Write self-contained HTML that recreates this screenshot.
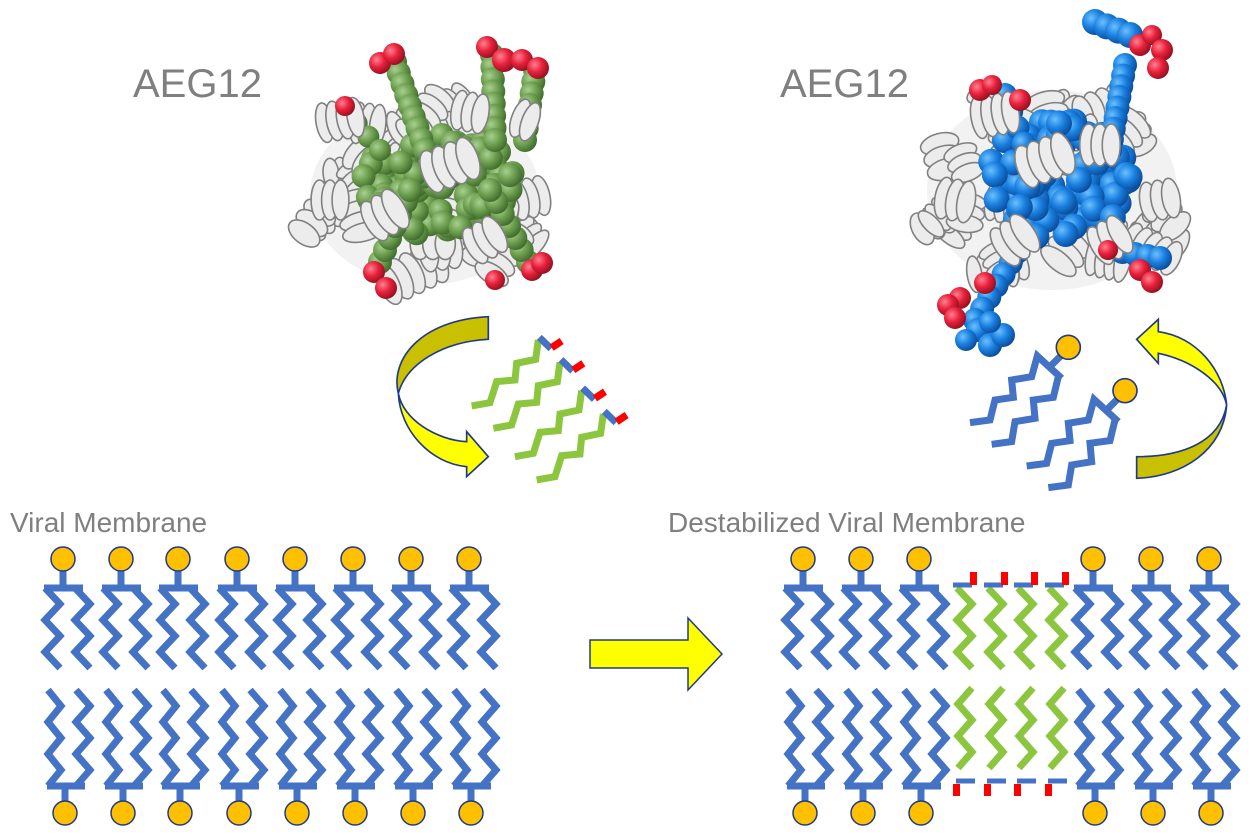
<!DOCTYPE html>
<html><head><meta charset="utf-8"><style>
html,body{margin:0;padding:0;background:#fff;width:1254px;height:836px;overflow:hidden}
svg{display:block}
text{font-family:"Liberation Sans",sans-serif;fill:#7f7f7f}
</style></head><body>
<svg id="s" width="1254" height="836" viewBox="0 0 1254 836" xmlns="http://www.w3.org/2000/svg">
<defs>
<linearGradient id="gl" x1="0" y1="0" x2="0" y2="1"><stop offset="0.47" stop-color="#c8c000"/><stop offset="0.47" stop-color="#ffff00"/></linearGradient>
<linearGradient id="gr" x1="0" y1="0" x2="0" y2="1"><stop offset="0.54" stop-color="#ffff00"/><stop offset="0.54" stop-color="#c8c000"/></linearGradient>
<radialGradient id="sg" cx="0.35" cy="0.35" r="0.7"><stop offset="0" stop-color="#a8d090"/><stop offset="0.5" stop-color="#6ea050"/><stop offset="1" stop-color="#3f6a2c"/></radialGradient>
<radialGradient id="sb" cx="0.35" cy="0.35" r="0.7"><stop offset="0" stop-color="#6cc0ff"/><stop offset="0.5" stop-color="#1a80e0"/><stop offset="1" stop-color="#0a4a98"/></radialGradient>
<radialGradient id="sr" cx="0.35" cy="0.35" r="0.7"><stop offset="0" stop-color="#ff8090"/><stop offset="0.5" stop-color="#e8203a"/><stop offset="1" stop-color="#901020"/></radialGradient>
</defs>
<text x="133" y="97" font-size="40">AEG12</text>
<text x="780" y="97" font-size="40">AEG12</text>
<text x="10" y="532" font-size="28">Viral Membrane</text>
<text x="668" y="532" font-size="28">Destabilized Viral Membrane</text>
<g id="prot"></g>
<g transform="translate(370,310) scale(0.3333)">
<path d="M355,20 L355,88 C220,95 110,160 85,250 C90,360 180,460 290,470 L290,500 L355,440 L290,365 L290,395 C200,390 100,330 85,250 C60,150 150,30 355,20 Z" fill="url(#gl)" stroke="#1f3a8a" stroke-width="5"/>
</g>
<g transform="translate(950,310) scale(0.3333)">
<path d="M625,65 L625,28 L560,88 L625,160 L625,130 C720,150 815,210 830,285 C810,400 690,440 560,440 L560,505 C700,500 820,420 830,285 C820,180 740,80 625,65 Z" fill="url(#gr)" stroke="#1f3a8a" stroke-width="5"/>
</g>
<path d="M590,640 L688,640 L688,618 L722,654 L688,690 L688,668 L590,668 Z" fill="#ffff00" stroke="#1f3a8a" stroke-width="1.5"/>
</svg>
<script>
var s=document.getElementById('s'),NS='http://www.w3.org/2000/svg';
function el(t,a,p){var e=document.createElementNS(NS,t);for(var k in a)e.setAttribute(k,a[k]);(p||s).appendChild(e);return e;}
var B='#4472c4',G='#8cc63f';
function pl(pts,c,w,p){el('polyline',{points:pts.map(function(q){return q.join(',')}).join(' '),fill:'none',stroke:c,'stroke-width':w,'stroke-linejoin':'miter','stroke-miterlimit':10,'stroke-linecap':'butt'},p);}
function zig(x1,x2,y0,y1,step){var r=[],i=0;for(var y=y0;y<=y1+0.1;y+=step){r.push([i%2?x2:x1,y]);i++;}return r;}
function lipid(c){
  el('line',{x1:c,y1:570,x2:c,y2:588,stroke:B,'stroke-width':7});
  el('line',{x1:c+2,y1:786,x2:c+2,y2:803,stroke:B,'stroke-width':7});
  el('line',{x1:c-19,y1:588,x2:c+20,y2:588,stroke:B,'stroke-width':7});
  el('line',{x1:c-16,y1:786,x2:c+22,y2:786,stroke:B,'stroke-width':7});
  pl(zig(c-18,c-3,588,676,16),B,7);
  pl(zig(c-15,c-2,690,786,16),B,7);
  pl(zig(c+12,c+27,588,676,16),B,7);
  pl(zig(c+13,c+27,690,786,16),B,7);
  el('circle',{cx:c,cy:559,r:12,fill:'#ffc000',stroke:'#1f3a8a','stroke-width':1.5});
  el('circle',{cx:c+2,cy:813,r:12,fill:'#ffc000',stroke:'#1f3a8a','stroke-width':1.5});
}
[63,121,178,237,295,353,411,469,803,861,919,1093,1151,1209].forEach(lipid);
[956,987,1017,1048].forEach(function(c){
  pl(zig(c+1,c+16,588,676,16),G,7);
  pl(zig(c+16,c+2,688,780,16),G,7);
  el('line',{x1:c-3,y1:585,x2:c+16,y2:585,stroke:B,'stroke-width':5});
  el('rect',{x:c+14,y:572,width:7,height:13,fill:'#ff0000'});
  el('line',{x1:c,y1:781,x2:c+19,y2:781,stroke:B,'stroke-width':5});
  el('rect',{x:c-3,y:784,width:7,height:12,fill:'#ff0000'});
});
var gz=el('g',{transform:'translate(370,310) scale(0.3333)'});
var shape=[[0,0],[55,-10],[75,-73],[130,-78],[135,-128],[192,-140],[200,-198]];
[[305,288],[370,355],[435,440],[500,510]].forEach(function(o){
  pl(shape.map(function(p){return [p[0]+o[0],p[1]+o[1]]}),G,21,gz);
  pl([[o[0]+203,o[1]-206],[o[0]+238,o[1]-172]],B,21,gz);
  el('line',{x1:o[0]+240,y1:o[1]-175,x2:o[0]+270,y2:o[1]-195,stroke:'#ff0000','stroke-width':22},gz);
});
var bz=el('g',{transform:'translate(950,310) scale(0.3333)'});
[[0,0],[170,130]].forEach(function(o){
  function T(a){return a.map(function(p){return [p[0]+o[0],p[1]+o[1]]})}
  pl(T([[60,338],[120,330],[135,270],[190,262],[185,210],[245,200],[262,138],[335,205]]),B,21,bz);
  pl(T([[125,403],[185,395],[195,335],[255,325],[250,270],[310,262],[325,200]]),B,21,bz);
  el('line',{x1:o[0]+300,y1:o[1]+170,x2:o[0]+340,y2:o[1]+130,stroke:B,'stroke-width':21},bz);
  el('circle',{cx:o[0]+355,cy:o[1]+112,r:36,fill:'#ffc000',stroke:'#1f3a8a','stroke-width':5},bz);
});
var pg=document.getElementById('prot');
var seed=7;function rnd(){seed=(seed*9301+49297)%233280;return seed/233280;}
function helix(cx,cy,rx,ry,n,ang){var g=el('g',{transform:'translate('+cx+','+cy+') rotate('+ang+')'},pg);
  for(var i=0;i<n;i++){el('ellipse',{cx:(i-(n-1)/2)*rx*0.75,cy:0,rx:rx*0.6,ry:ry,fill:'#ececec',stroke:'#808080','stroke-width':1.6},g);}}
function blob(cx,cy,rx,ry,n){for(var i=0;i<n;i++){var a=rnd()*6.283,r=Math.sqrt(rnd());helix(cx+Math.cos(a)*rx*r,cy+Math.sin(a)*ry*r,12+rnd()*6,15+rnd()*7,3+Math.floor(rnd()*3),rnd()*180);}}
function sph(pts,g,r){pts.forEach(function(p){el('circle',{cx:p[0],cy:p[1],r:p[2]||r,fill:'url(#'+g+')'},pg);});}
function chain(a,b,n,g,r){var r2=[];for(var i=0;i<=n;i++)r2.push([a[0]+(b[0]-a[0])*i/n,a[1]+(b[1]-a[1])*i/n]);sph(r2,g,r);}
// left protein
el('ellipse',{cx:425,cy:195,rx:115,ry:90,fill:'#f2f2f2'},pg);
blob(425,195,115,90,34);
var gc=[];for(var i=0;i<110;i++){var a=rnd()*6.283,r=Math.sqrt(rnd());gc.push([440+Math.cos(a)*80*r,185+Math.sin(a)*52*r]);}
sph(gc,'sg',12);
chain([395,62],[425,150],8,'sg',12);chain([492,55],[495,140],7,'sg',12);chain([535,70],[525,140],6,'sg',12);
chain([380,262],[410,190],6,'sg',12);chain([528,262],[490,190],6,'sg',12);chain([345,110],[380,150],3,'sg',11);
helix(450,165,17,22,4,-20);helix(470,112,14,20,3,10);helix(340,120,14,20,4,-10);helix(385,215,16,22,3,-30);helix(485,240,15,20,3,-30);helix(330,200,14,20,3,0);helix(525,120,14,20,2,20);
sph([[380,63,11],[394,54,11],[487,47,11],[504,60,12],[522,60,11],[538,68,11],[345,106,10],[374,272,11],[386,288,11],[532,270,11],[542,263,11],[495,280,10]],'sr');
// right protein
seed=31;
el('ellipse',{cx:1052,cy:190,rx:125,ry:100,fill:'#f2f2f2'},pg);
blob(1052,190,125,100,38);
var bc=[];for(var i=0;i<110;i++){var a=rnd()*6.283,r=Math.sqrt(rnd());bc.push([1058+Math.cos(a)*72*r,180+Math.sin(a)*60*r]);}
sph(bc,'sb',13);
chain([1125,65],[1110,150],8,'sb',12);chain([1095,22],[1130,35],3,'sb',13);chain([1005,95],[1030,160],4,'sb',12);
chain([1025,240],[975,320],7,'sb',12);sph([[978,330,12],[990,345,12],[1003,335,12],[966,340,11],[990,322,11]],'sb');
chain([1110,250],[1160,258],4,'sb',12);
helix(1045,160,17,22,4,-20);helix(1100,145,15,21,3,0);helix(995,115,14,21,4,-10);helix(1015,240,16,22,3,-35);helix(1110,240,15,21,3,-30);helix(955,200,15,21,3,10);helix(1160,200,15,20,3,-10);
sph([[1140,45,11],[1152,35,10],[1162,50,11],[1158,68,11],[980,90,11],[1020,100,11],[992,85,10],[960,298,11],[985,283,11],[948,305,11],[955,318,11],[1140,270,11],[1152,282,11],[1108,250,10]],'sr');
</script>
</body></html>
